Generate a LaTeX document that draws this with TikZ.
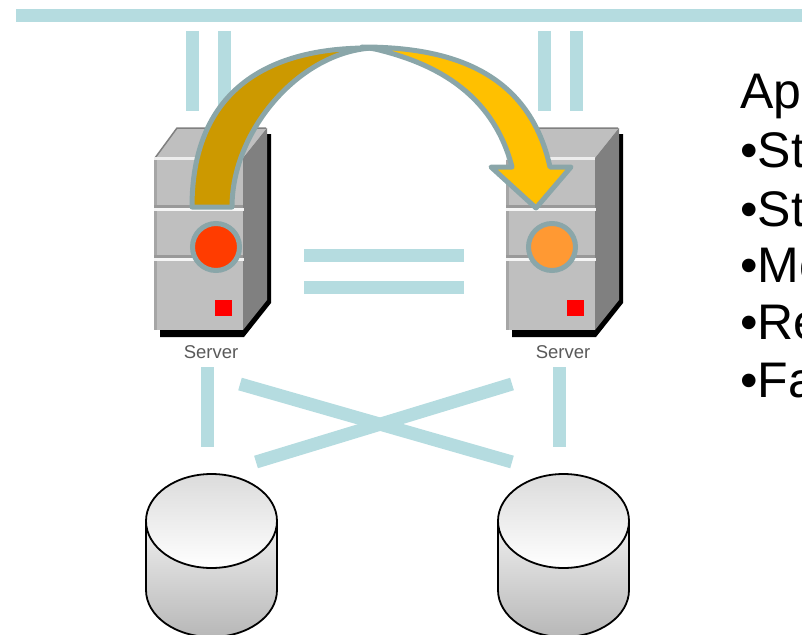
\documentclass[tikz,border=0pt]{standalone}
\usepackage{fontspec}
\setmainfont{Liberation Sans}
\definecolor{wirecol}{HTML}{B5DCE0}
\definecolor{rimcol}{HTML}{8AA6A9}
\definecolor{ledred}{HTML}{FF3C00}
\definecolor{ledorange}{HTML}{FF9933}
\definecolor{arrowdark}{HTML}{CC9900}
\definecolor{arrowlight}{HTML}{FFC000}
\tikzstyle{wire} = [draw=wirecol, line width=13pt]
\tikzstyle{led} = [circle, draw=rimcol, line width=5pt, minimum size=47pt, inner sep=0pt]
\tikzstyle{srvlabel} = [font=\fontsize{18.5}{18.5}\selectfont, text=black!65, inner sep=0pt]
\tikzstyle{bullet} = [font=\fontsize{50}{50}\selectfont, anchor=base west, inner sep=0pt]
\tikzstyle{swoop} = [draw=rimcol, line width=5pt, line join=round]

\begin{document}
\begin{tikzpicture}[x=1pt, y=-1pt]
	\useasboundingbox (0,0) rectangle (802,634);

	% servers and disks
	\foreach \srv/\dx in {left/0, right/352} {
		\begin{scope}[shift={(\dx,0)}]
			\fill[black] (160,330) -- (160,337) -- (244,337) -- (271,303) -- (271,134) -- (262,134) -- cycle;
			\fill[black!25] (155,158) -- (177,128) -- (267,128) -- (243,158) -- cycle;
			\draw[black!50, line width=1.5pt] (155,158) -- (177,128) -- (266,128);
			\fill[black!50] (243,158) -- (267,128) -- (267,300) -- (243,330) -- cycle;
			\fill[black!25] (154,158) rectangle (243,330);
			\fill[black!35] (154,158) rectangle (157,330);
			\fill[black!40] (154,205) rectangle (243,208);
			\fill[black!40] (154,255) rectangle (243,258);
			\fill[black!7] (154,157) rectangle (243,160);
			\fill[black!4] (154,208) rectangle (244,210.5);
			\fill[black!4] (154,258) rectangle (244,260.5);
			\fill[red] (215,300) rectangle (232,316);
			\node[srvlabel] (\srv label) at (211,352) {Server};

			% disk
			\shade[shading angle=30, top color=black!6, bottom color=black!28, draw=black, line width=1.8pt] (146,521) -- (146,590) arc[start angle=180, end angle=360, x radius=65.5pt, y radius=47pt] -- (277,521) -- cycle;
			\shade[top color=black!14, bottom color=white, draw=black, line width=1.8pt] (211.5,521) ellipse[x radius=65.5pt, y radius=47pt];

			% wires of this server
			\coordinate (\srv busa) at (192,31);
			\coordinate (\srv hosta) at (192,111);
			\coordinate (\srv busb) at (224.5,31);
			\coordinate (\srv hostb) at (224.5,111);
			\coordinate (\srv down) at (207.5,367);
			\coordinate (\srv disk) at (207.5,447);
			\path[wire] (\srv busa) -- (\srv hosta);
			\path[wire] (\srv busb) -- (\srv hostb);
			\path[wire] (\srv down) -- (\srv disk);
		\end{scope}
	}

	\node[led, fill=ledred] (ledleft) at (216,247) {};
	\node[led, fill=ledorange] (ledright) at (552,247) {};

	% bus, heartbeat and cross links
	\coordinate (busl) at (16,16);
	\coordinate (busr) at (802,16);
	\coordinate (hba) at (304,255.5);
	\coordinate (hbb) at (464,255.5);
	\coordinate (hbc) at (304,287);
	\coordinate (hbd) at (464,287);
	\coordinate (crossa) at (240,384);
	\coordinate (crossb) at (512,462);
	\coordinate (crossc) at (256,462);
	\coordinate (crossd) at (512,384);
	\path[wire] (busl) -- (busr);
	\path[wire] (hba) -- (hbb);
	\path[wire] (hbc) -- (hbd);
	\path[wire] (crossa) -- (crossb);
	\path[wire] (crossc) -- (crossd);

	% failover arrow
	\path[swoop, fill=arrowdark] (192,207) .. controls (192,95) and (262,47) .. (372,48) .. controls (300,52) and (232,130) .. (232,207) -- cycle;
	\path[swoop, fill=arrowlight] (362,47) .. controls (445,47) and (528,68) .. (550,167) -- (571,167) -- (536,208) -- (491,167) -- (512,167) .. controls (492,90) and (430,62) .. (375,49) -- cycle;

	% list, cut off at the page edge
	\node[bullet] (head) at (740,108) {Ap};
	\node[bullet] (itema) at (740,167) {•St};
	\node[bullet] (itemb) at (740,226) {•St};
	\node[bullet] (itemc) at (740,282) {•Mo};
	\node[bullet] (itemd) at (740,339) {•Re};
	\node[bullet] (iteme) at (740,397) {•Fa};
\end{tikzpicture}
\end{document}
